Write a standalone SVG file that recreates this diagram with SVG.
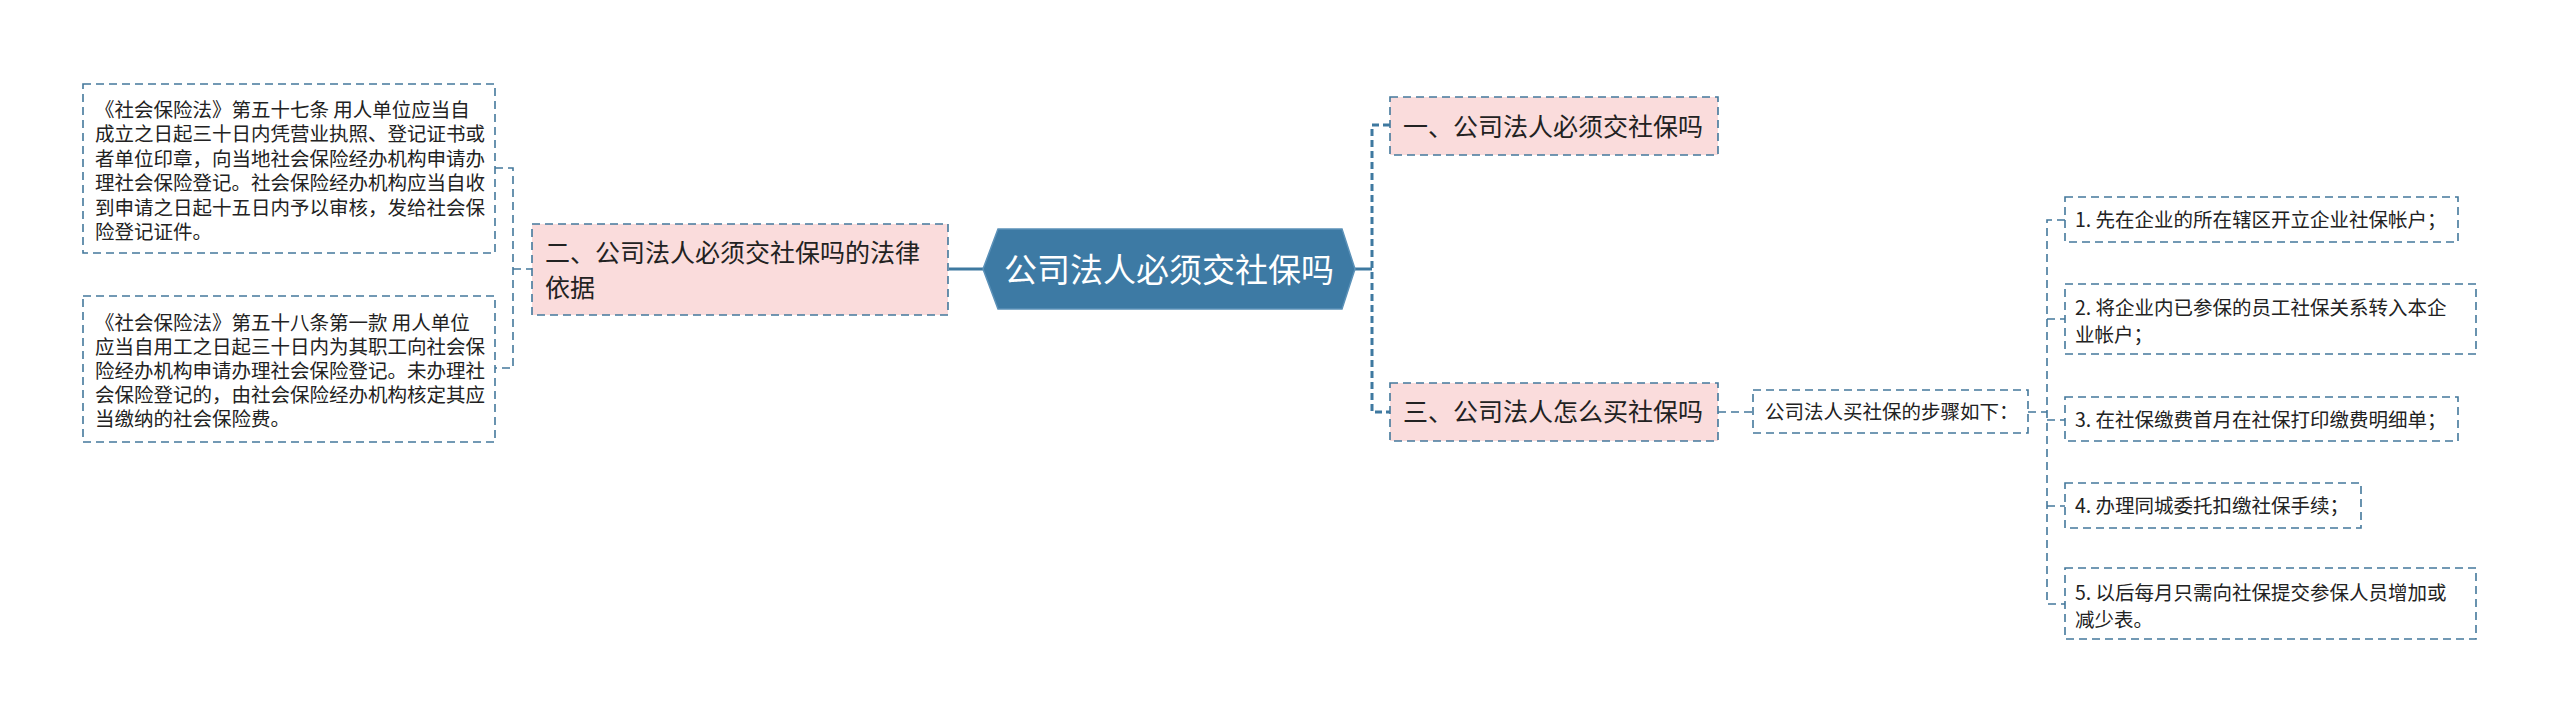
<svg xmlns="http://www.w3.org/2000/svg" width="2560" height="723" viewBox="0 0 2560 723">
<style>
text{font-family:"Noto Sans CJK SC","Noto Sans",sans-serif;fill:#222;}
.box{stroke:#44789c;stroke-width:1.6;stroke-dasharray:8 5;fill:#ffffff;}
.pink{fill:#fadcdc;}
.t19{font-size:19.5px;}
.t25{font-size:25px;}
.conn{fill:none;stroke:#44789c;stroke-width:1.6;stroke-dasharray:8 5;}
.thick{fill:none;stroke:#3e79a0;stroke-width:3;stroke-dasharray:7 4;}
.solid{fill:none;stroke:#3e79a0;stroke-width:3;}
</style>
<rect width="2560" height="723" fill="#ffffff"/>
<g id="connectors">
<path class="conn" d="M495,168 H513 V368 H495 M513,269 H532"/>
<path class="solid" d="M949,269 H984"/>
<path class="solid" d="M1355,269 H1372"/>
<path class="thick" d="M1390,125 H1372 V412 H1390"/>
<path class="conn" d="M1718,412 H1753"/>
<path class="conn" d="M2028,412 H2047"/>
<path class="conn" d="M2065,220 H2047 V604 H2065 M2047,319 H2065 M2047,420 H2065 M2047,506 H2065"/>
</g>
<g id="center">
<polygon points="983,269 998,229 1342,229 1355,269 1342,309 998,309" fill="#3d7aa4" stroke="#5b91b8" stroke-width="1.5"/>
<text x="1169" y="282" font-size="33" text-anchor="middle" style="fill:#ffffff">公司法人必须交社保吗</text>
</g>
<g id="n2">
<rect class="box pink" x="532" y="224" width="416" height="91"/>
<text class="t25" x="545" y="262">二、公司法人必须交社保吗的法律</text>
<text class="t25" x="545" y="297">依据</text>
</g>
<g id="law1">
<rect class="box" x="83" y="84" width="412" height="169"/>
<text class="t19" x="95" y="116.5">《社会保险法》第五十七条 用人单位应当自</text>
<text class="t19" x="95" y="141">成立之日起三十日内凭营业执照、登记证书或</text>
<text class="t19" x="95" y="165.5">者单位印章，向当地社会保险经办机构申请办</text>
<text class="t19" x="95" y="190">理社会保险登记。社会保险经办机构应当自收</text>
<text class="t19" x="95" y="214.5">到申请之日起十五日内予以审核，发给社会保</text>
<text class="t19" x="95" y="239">险登记证件。</text>
</g>
<g id="law2">
<rect class="box" x="83" y="296" width="412" height="146"/>
<text class="t19" x="95" y="329.5">《社会保险法》第五十八条第一款 用人单位</text>
<text class="t19" x="95" y="353.7">应当自用工之日起三十日内为其职工向社会保</text>
<text class="t19" x="95" y="377.9">险经办机构申请办理社会保险登记。未办理社</text>
<text class="t19" x="95" y="402.1">会保险登记的，由社会保险经办机构核定其应</text>
<text class="t19" x="95" y="426.3">当缴纳的社会保险费。</text>
</g>
<g id="n1">
<rect class="box pink" x="1390" y="97" width="328" height="58"/>
<text class="t25" x="1403" y="136">一、公司法人必须交社保吗</text>
</g>
<g id="n3">
<rect class="box pink" x="1390" y="383" width="328" height="58"/>
<text class="t25" x="1403" y="421">三、公司法人怎么买社保吗</text>
</g>
<g id="steps-intro">
<rect class="box" x="1753" y="390" width="275" height="43"/>
<text class="t19" x="1765" y="419">公司法人买社保的步骤如下：</text>
</g>
<g id="s1">
<rect class="box" x="2065" y="197" width="393" height="45"/>
<text class="t19" x="2075" y="227">1. 先在企业的所在辖区开立企业社保帐户；</text>
</g>
<g id="s2">
<rect class="box" x="2065" y="284" width="411" height="70"/>
<text class="t19" x="2075" y="315">2. 将企业内已参保的员工社保关系转入本企</text>
<text class="t19" x="2075" y="342">业帐户；</text>
</g>
<g id="s3">
<rect class="box" x="2065" y="397" width="393" height="44"/>
<text class="t19" x="2075" y="427">3. 在社保缴费首月在社保打印缴费明细单；</text>
</g>
<g id="s4">
<rect class="box" x="2065" y="483" width="296" height="45"/>
<text class="t19" x="2075" y="513">4. 办理同城委托扣缴社保手续；</text>
</g>
<g id="s5">
<rect class="box" x="2065" y="568" width="411" height="71"/>
<text class="t19" x="2075" y="600">5. 以后每月只需向社保提交参保人员增加或</text>
<text class="t19" x="2075" y="627">减少表。</text>
</g>
</svg>
